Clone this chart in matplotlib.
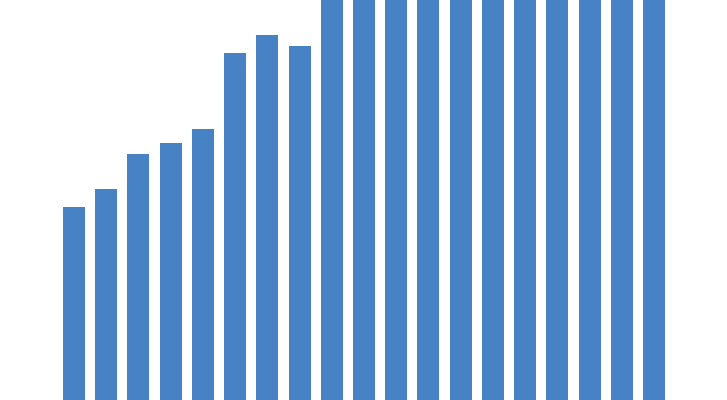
import matplotlib
matplotlib.use("Agg")
import matplotlib.pyplot as plt

categories = [str(i + 1) for i in range(19)]
values = [191.6, 207.8, 240.5, 250.5, 263.5, 334.6, 351.4, 340.6,
          400, 400, 400, 400, 400, 400, 400, 400, 400, 400, 400]

bar_color = "#4682c4"

fig = plt.figure(figsize=(7.27, 4.00), dpi=100)
ax = fig.add_axes([0, 0, 1, 1])
x = list(range(len(categories)))
ax.bar(x, values, width=0.683, color=bar_color, linewidth=0)
ax.set_xlim(-2.297, 20.267)
ax.set_ylim(12.07, 383.6)
ax.axis("off")
fig.savefig("out.png", dpi=100)
